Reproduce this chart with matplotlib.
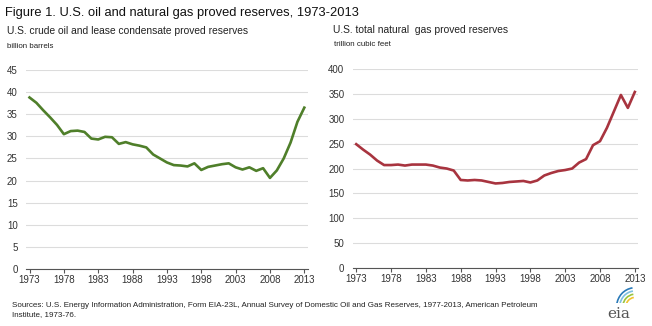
import numpy as np
import matplotlib
matplotlib.use("Agg")
import matplotlib.pyplot as plt
from matplotlib.patches import Arc

plt.rcParams['font.family'] = ['Liberation Sans', 'DejaVu Sans']

years = list(range(1973, 2014))

# crude oil and lease condensate, billion barrels
oil = [38.8, 37.6, 35.9, 34.3, 32.6, 30.5, 31.2, 31.3, 31.0, 29.5,
       29.3, 29.9, 29.8, 28.3, 28.7, 28.2, 27.9, 27.5, 25.9, 25.0,
       24.1, 23.5, 23.4, 23.2, 23.9, 22.4, 23.1, 23.4, 23.7, 23.9,
       23.0, 22.5, 23.0, 22.2, 22.8, 20.6, 22.3, 25.0, 28.6, 33.3,
       36.5]

# total natural gas, trillion cubic feet
gas = [249, 238, 228, 216, 207, 207, 208, 206, 208, 208,
       208, 206, 202, 200, 196, 177, 176, 177, 176, 173,
       170, 171, 173, 174, 175, 172, 176, 186, 191, 195,
       197, 200, 212, 219, 247, 255, 282, 315, 348, 322,
       354]

tick_years = list(range(1973, 2014, 5))

fig = plt.figure(figsize=(6.52, 3.26), dpi=100)
fig.patch.set_facecolor("white")

fig.text(0.008, 0.960, "Figure 1. U.S. oil and natural gas proved reserves, 1973-2013",
         fontsize=9.3, color="#111111", va="center")
fig.text(0.011, 0.906, "U.S. crude oil and lease condensate proved reserves",
         fontsize=7.4, color="#222222", va="center")
fig.text(0.011, 0.856, "billion barrels", fontsize=5.7, color="#222222", va="center")
fig.text(0.511, 0.908, "U.S. total natural  gas proved reserves",
         fontsize=7.4, color="#222222", va="center")
fig.text(0.512, 0.862, "trillion cubic feet", fontsize=5.7, color="#222222", va="center")


def style(ax, ymax, step):
    ax.set_ylim(0, ymax)
    ax.set_yticks(np.arange(0, ymax + 1, step))
    ax.set_xlim(1972.5, 2013.5)
    ax.set_xticks(tick_years)
    ax.grid(axis="y", color="#dcdcdc", linewidth=0.8)
    ax.set_axisbelow(True)
    for s in ["left", "right", "top"]:
        ax.spines[s].set_visible(False)
    ax.spines["bottom"].set_color("#555555")
    ax.spines["bottom"].set_linewidth(0.8)
    ax.tick_params(axis="y", length=0, labelsize=7, colors="#333333", pad=6)
    ax.tick_params(axis="x", length=3, width=0.8, color="#555555",
                   labelsize=7, labelcolor="#333333", pad=1)


ax1 = fig.add_axes([0.040, 0.175, 0.432, 0.610])
ax1.plot(years, oil, color="#4f7f2a", linewidth=1.9, solid_joinstyle="round")
style(ax1, 45, 5)

ax2 = fig.add_axes([0.541, 0.178, 0.438, 0.610])
ax2.plot(years, gas, color="#a8343f", linewidth=1.9, solid_joinstyle="round")
style(ax2, 400, 50)

fig.text(0.018, 0.062, "Sources: U.S. Energy Information Administration, Form EIA-23L, Annual Survey of "
         "Domestic Oil and Gas Reserves, 1977-2013, American Petroleum",
         fontsize=5.8, color="#222222", va="center")
fig.text(0.018, 0.034, "Institute, 1973-76.", fontsize=5.8, color="#222222", va="center")

# eia logo
fig.text(0.949, 0.036, "eia", fontsize=11, family="DejaVu Serif", color="#555555",
         ha="center", va="center")
logo = fig.add_axes([0.929, 0.070, 0.045, 0.06])
logo.set_xlim(0, 1)
logo.set_ylim(0, 1)
logo.axis("off")
for r, c in [(0.9, "#2a7ab8"), (0.75, "#7fc0e0"), (0.6, "#9ac43c"), (0.45, "#f2c230")]:
    logo.add_patch(Arc((1.0, -0.2), r * 1.4, r * 2.2, theta1=95, theta2=170,
                       color=c, linewidth=1.2))

fig.savefig("out.png", dpi=100, facecolor="white")
